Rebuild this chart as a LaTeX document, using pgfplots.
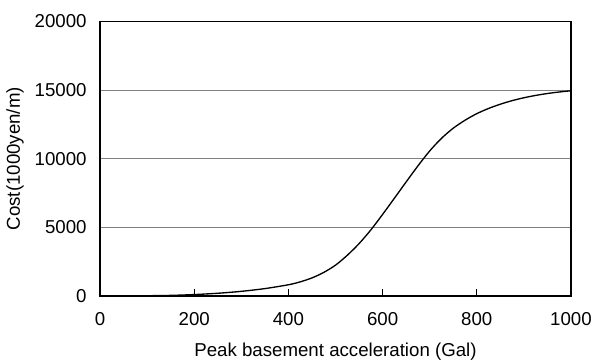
\documentclass[border=0pt]{standalone}
\usepackage{fontspec}
\setmainfont{Liberation Sans}
\usepackage{pgfplots}
\pgfplotsset{compat=1.18}
\begin{document}
\begin{tikzpicture}
\path[use as bounding box] (-75pt,-50.5pt) rectangle (369.75pt,221.8pt);
\begin{axis}[
  at={(0,0)}, anchor=origin,
  scale only axis,
  width=353.25pt, height=205.65pt,
  xmin=0, xmax=1000, ymin=0, ymax=20000,
  xtick={0,200,400,600,800,1000},
  ytick={0,5000,10000,15000,20000},
  scaled y ticks=false,
  /pgf/number format/assume math mode=true,
  /pgf/number format/1000 sep={},
  tick label style={font=\fontsize{14}{16}\selectfont},
  label style={font=\fontsize{14}{16}\selectfont},
  yticklabel style={xshift=-6.5pt},
  xticklabel style={yshift=-9pt},
  tick align=inside,
  xtick pos=lower,
  major tick length=5pt,
  ytick style={draw=none},
  xtick style={black, line width=0.6pt},
  axis line style={black, line width=1.3pt},
  ymajorgrids,
  grid style={gray, line width=0.8pt},
  xlabel={Peak basement acceleration (Gal)},
  ylabel={Cost(1000yen/m)},
  xlabel style={at={(axis description cs:0.5,-0.2053)}, anchor=center},
  ylabel style={at={(axis description cs:-0.1805,0.5)}, anchor=center},
]
\addplot[black, line width=1pt, smooth] coordinates {
(100,0) (150,25) (200,85) (250,180) (300,320) (350,520) (400,800)
(425,1010) (450,1300) (475,1700) (500,2230) (525,2950) (550,3800)
(575,4800) (600,5930) (625,7110) (650,8300) (675,9470) (700,10560)
(725,11480) (750,12220) (775,12800) (800,13280) (825,13660)
(850,13970) (875,14230) (900,14440) (925,14610) (950,14750)
(975,14860) (1000,14950)
};
\end{axis}
\end{tikzpicture}
\end{document}
